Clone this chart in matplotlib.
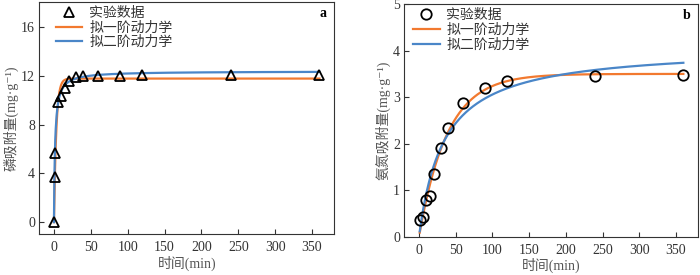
import numpy as np
import matplotlib
matplotlib.use("Agg")
import matplotlib.pyplot as plt

plt.rcParams['font.family'] = ['Liberation Serif', 'Noto Sans CJK SC', 'DejaVu Sans']
plt.rcParams['axes.unicode_minus'] = False

# phosphorus adsorption (panel a)
t_p = [0, 1, 2, 5, 10, 15, 20, 30, 40, 60, 90, 120, 240, 360]
q_p = [0, 3.75, 5.7, 9.85, 10.4, 11.0, 11.6, 11.95, 12.05, 12.05, 12.05, 12.1, 12.1, 12.1]
# fitted parameters: first order (qe, k1), second order (qe, k2)
p1_p = (11.8, 0.32)
p2_p = (12.4, 0.054)

# ammonia nitrogen adsorption (panel b)
t_n = [1, 5, 10, 15, 20, 30, 40, 60, 90, 120, 240, 360]
q_n = [0.36, 0.42, 0.79, 0.87, 1.34, 1.91, 2.33, 2.87, 3.19, 3.34, 3.45, 3.48]
p1_n = (3.5, 0.026)
p2_n = (4.09, 0.00724)

legend_labels = ['实验数据', '拟一阶动力学', '拟二阶动力学']
orange = '#f2792f'
blue = '#4a86c8'


def first_order(t, qe, k):
    return qe * (1 - np.exp(-k * t))


def second_order(t, qe, k):
    return qe * qe * k * t / (1 + qe * k * t)


fig = plt.figure(figsize=(7, 2.75), dpi=100)
ax1 = fig.add_axes([0.056, 0.148, 0.4214, 0.845])
ax2 = fig.add_axes([0.5776, 0.139, 0.4196, 0.846])

panels = [
    (ax1, t_p, q_p, p1_p, p2_p, '^', 0, '磷吸附量(mg·g⁻¹)', 'a', 0.057),
    (ax2, t_n, q_n, p1_n, p2_n, 'o', 1, '氨氮吸附量(mg·g⁻¹)', 'b', 0.03),
]

for ax, t, q, p1, p2, mk, t0, ylab, letter, lx in panels:
    tt = np.linspace(t0, 360, 600)
    ax.plot(t, q, linestyle='none', marker=mk, markersize=7.5, markerfacecolor='none',
            markeredgecolor='black', markeredgewidth=1.3, label=legend_labels[0], zorder=3)
    ax.plot(tt, first_order(tt, *p1), color=orange, lw=1.6, label=legend_labels[1])
    ax.plot(tt, second_order(tt, *p2), color=blue, lw=1.6, label=legend_labels[2])
    ax.set_xlim(-20, 380)
    ax.set_xticks(np.arange(0, 351, 50))
    ax.set_xlabel('时间(min)', fontsize=10, color='#555555', labelpad=1)
    ax.set_ylabel(ylab, fontsize=10, color='#555555', labelpad=2)
    ax.tick_params(direction='in', length=3.5, labelsize=10, colors='#333333')
    ax.tick_params(axis='x', pad=5)
    ax.tick_params(axis='y', pad=3)
    for s in ax.spines.values():
        s.set_color('#333333')
        s.set_linewidth(0.8)
    ax.text(0.975, 0.95, letter, transform=ax.transAxes, ha='right', va='center',
            fontsize=10, fontweight='bold')
    leg = ax.legend(loc='upper left', frameon=False, fontsize=10, handlelength=1.9,
                    borderpad=0, borderaxespad=0, labelspacing=0.1, handletextpad=0.5,
                    bbox_to_anchor=(lx, 0.978))
    for txt in leg.get_texts():
        txt.set_color('#333333')

ax1.set_ylim(-1, 18.1)
ax1.set_yticks([0, 4, 8, 12, 16])
ax2.set_ylim(0, 5)
ax2.set_yticks([0, 1, 2, 3, 4, 5])

fig.savefig('out.png', dpi=100)
